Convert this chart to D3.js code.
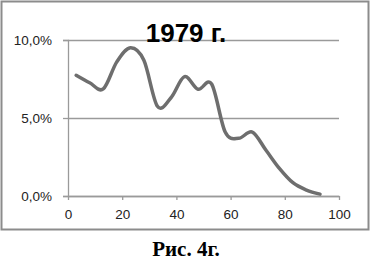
<!DOCTYPE html>
<html lang="ru">
<head>
<meta charset="utf-8">
<title>1979 г.</title>
<style>
  body { margin: 0; background: #fff; }
  svg { display: block; }
  .tick text { font-family: "Liberation Sans", Arial, sans-serif; font-size: 13.5px; fill: #222; }
</style>
</head>
<body>
<script src="https://d3js.org/d3.v7.min.js"></script>
<script>
  // age (years) and share of population
  const ages = [3, 8, 13, 18, 23, 28, 33, 38, 43, 48, 53, 58, 63, 68, 73, 78, 83, 88, 93];
  const shares = [0.0774, 0.0726, 0.0686, 0.0860, 0.0950, 0.0870, 0.0575, 0.0630, 0.0765, 0.0684,
                  0.0718, 0.0410, 0.0370, 0.0410, 0.0295, 0.0177, 0.0085, 0.0038, 0.0012];
  const xTicks = [0, 20, 40, 60, 80, 100];
  const yTicks = [0, 0.05, 0.10];

  const width = 371, height = 260;
  const plot = {left: 68, right: 339, top: 40, bottom: 196};

  const svg = d3.select("body").append("svg")
    .attr("width", width)
    .attr("height", height);

  // chart frame
  svg.append("rect")
    .attr("x", 1.5).attr("y", 1.5)
    .attr("width", 367).attr("height", 228)
    .attr("fill", "#fff")
    .attr("stroke", "#8c8c8c")
    .attr("stroke-width", 2);

  const x = d3.scaleLinear().domain([0, 100]).range([plot.left, plot.right]);
  const y = d3.scaleLinear().domain([0, 0.10]).range([plot.bottom, plot.top]);

  const pct = d => d3.format(".1f")(d * 100).replace(".", ",") + "%";

  // y axis with gridlines
  const yAxis = svg.append("g")
    .attr("transform", `translate(${plot.left},0)`)
    .call(d3.axisLeft(y).tickValues(yTicks).tickFormat(pct).tickSize(5).tickPadding(11));
  yAxis.select(".domain").attr("stroke", "#9a9a9a").attr("stroke-width", 1.3);
  yAxis.selectAll(".tick line").attr("stroke", "#9a9a9a").attr("stroke-width", 1.3);
  yAxis.selectAll(".tick").append("line")
    .attr("x1", 0).attr("x2", plot.right - plot.left)
    .attr("stroke", "#9a9a9a").attr("stroke-width", 1.3);

  // x axis
  const xAxis = svg.append("g")
    .attr("transform", `translate(0,${plot.bottom})`)
    .call(d3.axisBottom(x).tickValues(xTicks).tickSize(4).tickPadding(9).tickSizeOuter(0));
  xAxis.select(".domain").attr("stroke", "#9a9a9a").attr("stroke-width", 1.3);
  xAxis.selectAll(".tick line").attr("stroke", "#9a9a9a").attr("stroke-width", 1.3);

  // smoothed series line
  const line = d3.line()
    .x((d, i) => x(ages[i]))
    .y(d => y(d))
    .curve(d3.curveCardinal);

  svg.append("path")
    .datum(shares)
    .attr("d", line)
    .attr("fill", "none")
    .attr("stroke", "#6e6e6e")
    .attr("stroke-width", 3.5)
    .attr("stroke-linejoin", "round")
    .attr("stroke-linecap", "round");

  // title
  svg.append("text")
    .attr("x", 186).attr("y", 42)
    .attr("text-anchor", "middle")
    .style("font-family", "'Liberation Sans', Arial, sans-serif")
    .style("font-weight", "bold")
    .style("font-size", "26px")
    .text("1979 г.");

  // caption under the frame
  svg.append("text")
    .attr("x", 186).attr("y", 256)
    .attr("text-anchor", "middle")
    .style("font-family", "'Liberation Serif', 'Times New Roman', serif")
    .style("font-weight", "bold")
    .style("font-size", "21px")
    .text("Рис. 4г.");
</script>
</body>
</html>
